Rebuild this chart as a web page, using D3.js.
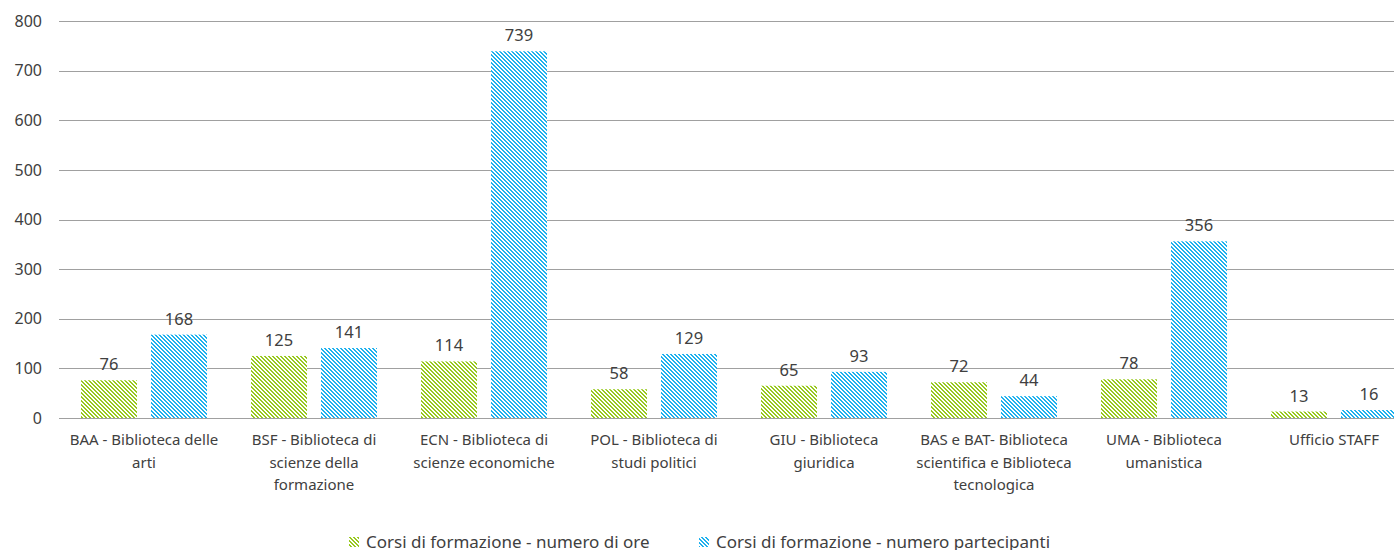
<!doctype html>
<html>
<head>
    <meta charset="UTF-8">
    <title>Corsi di formazione</title>
    <script src="https://d3js.org/d3.v7.min.js"></script>
    <style>
        body { margin: 0; background: #fff; }
        text { font-family: "Noto Sans", "DejaVu Sans", sans-serif; fill: #404040; }
    </style>
</head>
<body>
<script>
    // dati
    var categorie = [
        "BAA - Biblioteca delle\narti",
        "BSF - Biblioteca di\nscienze della\nformazione",
        "ECN - Biblioteca di\nscienze economiche",
        "POL - Biblioteca di\nstudi politici",
        "GIU - Biblioteca\ngiuridica",
        "BAS e BAT- Biblioteca\nscientifica e Biblioteca\ntecnologica",
        "UMA - Biblioteca\numanistica",
        "Ufficio STAFF"
    ];
    var serie = ["Corsi di formazione - numero di ore", "Corsi di formazione - numero partecipanti"];
    var ore = [76, 125, 114, 58, 65, 72, 78, 13];
    var partecipanti = [168, 141, 739, 129, 93, 44, 356, 16];
    var yTicks = [0, 100, 200, 300, 400, 500, 600, 700, 800];
    var colori = ["#99c91f", "#1fb1ee"];

    var w = 1394, h = 550;
    var mLeft = 59, mRight = 1419, mTop = 21, mBottom = 418;

    var svg = d3.select("body").append("svg")
        .attr("width", w)
        .attr("height", h);

    // pattern a righe diagonali (stile Excel)
    var defs = svg.append("defs");
    colori.forEach(function (c, k) {
        var p = defs.append("pattern")
            .attr("id", "pat" + k)
            .attr("patternUnits", "userSpaceOnUse")
            .attr("width", 4)
            .attr("height", 4);
        p.append("rect").attr("width", 4).attr("height", 4).attr("fill", "#fff");
        for (var yy = 0; yy < 4; yy++) {
            for (var xx = 0; xx < 4; xx++) {
                if (((xx - yy) % 4 + 4) % 4 < 2) {
                    p.append("rect").attr("x", xx).attr("y", yy)
                        .attr("width", 1).attr("height", 1)
                        .attr("fill", c).attr("shape-rendering", "crispEdges");
                }
            }
        }
    });

    var x0 = d3.scaleBand().domain(d3.range(categorie.length))
        .range([mLeft, mRight]).paddingInner(0).paddingOuter(0);
    var x1 = d3.scaleBand().domain([0, 1])
        .range([22, x0.bandwidth() - 22]).paddingInner(0.2);
    var y = d3.scaleLinear().domain([0, 800]).range([mBottom, mTop]);

    // griglia
    svg.append("g").selectAll("line").data(yTicks).enter().append("line")
        .attr("x1", mLeft).attr("x2", w)
        .attr("y1", function (d) { return Math.round(y(d)) + 0.5; })
        .attr("y2", function (d) { return Math.round(y(d)) + 0.5; })
        .attr("stroke", "#a0a0a0").attr("stroke-width", 1);

    // asse y
    var yAxis = d3.axisLeft(y).tickValues(yTicks).tickSize(0).tickPadding(0);
    var ga = svg.append("g").attr("transform", "translate(42,0)").call(yAxis);
    ga.select(".domain").remove();
    ga.selectAll("text").style("font-size", "16px").attr("fill", "#404040")
        .style("font-family", "'Noto Sans', sans-serif");

    // barre
    var dati = [];
    categorie.forEach(function (c, i) {
        dati.push({ i: i, s: 0, v: ore[i] });
        dati.push({ i: i, s: 1, v: partecipanti[i] });
    });

    svg.append("g").selectAll("rect").data(dati).enter().append("rect")
        .attr("x", function (d) { return Math.round(x0(d.i) + x1(d.s)); })
        .attr("y", function (d) { return y(d.v); })
        .attr("width", Math.round(x1.bandwidth()))
        .attr("height", function (d) { return mBottom - y(d.v); })
        .attr("fill", function (d) { return "url(#pat" + d.s + ")"; });

    // etichette valori
    svg.append("g").selectAll("text").data(dati).enter().append("text")
        .attr("x", function (d) { return x0(d.i) + x1(d.s) + x1.bandwidth() / 2; })
        .attr("y", function (d) { return y(d.v) - 10; })
        .attr("text-anchor", "middle")
        .style("font-size", "16.5px")
        .text(function (d) { return d.v; });

    // etichette categorie
    var gc = svg.append("g").selectAll("text").data(categorie).enter().append("text")
        .attr("text-anchor", "middle")
        .style("font-size", "15px");
    gc.each(function (d, i) {
        var t = d3.select(this);
        d.split("\n").forEach(function (riga, k) {
            t.append("tspan")
                .attr("x", x0(i) + x0.bandwidth() / 2)
                .attr("y", 445 + k * 22.5)
                .text(riga);
        });
    });

    // legenda
    var legX = [349, 699];
    serie.forEach(function (s, k) {
        svg.append("rect").attr("x", legX[k]).attr("y", 537)
            .attr("width", 10).attr("height", 10)
            .attr("fill", "url(#pat" + k + ")");
        svg.append("text").attr("x", legX[k] + 17).attr("y", 548)
            .style("font-size", "17px")
            .text(s);
    });
</script>
</body>
</html>
